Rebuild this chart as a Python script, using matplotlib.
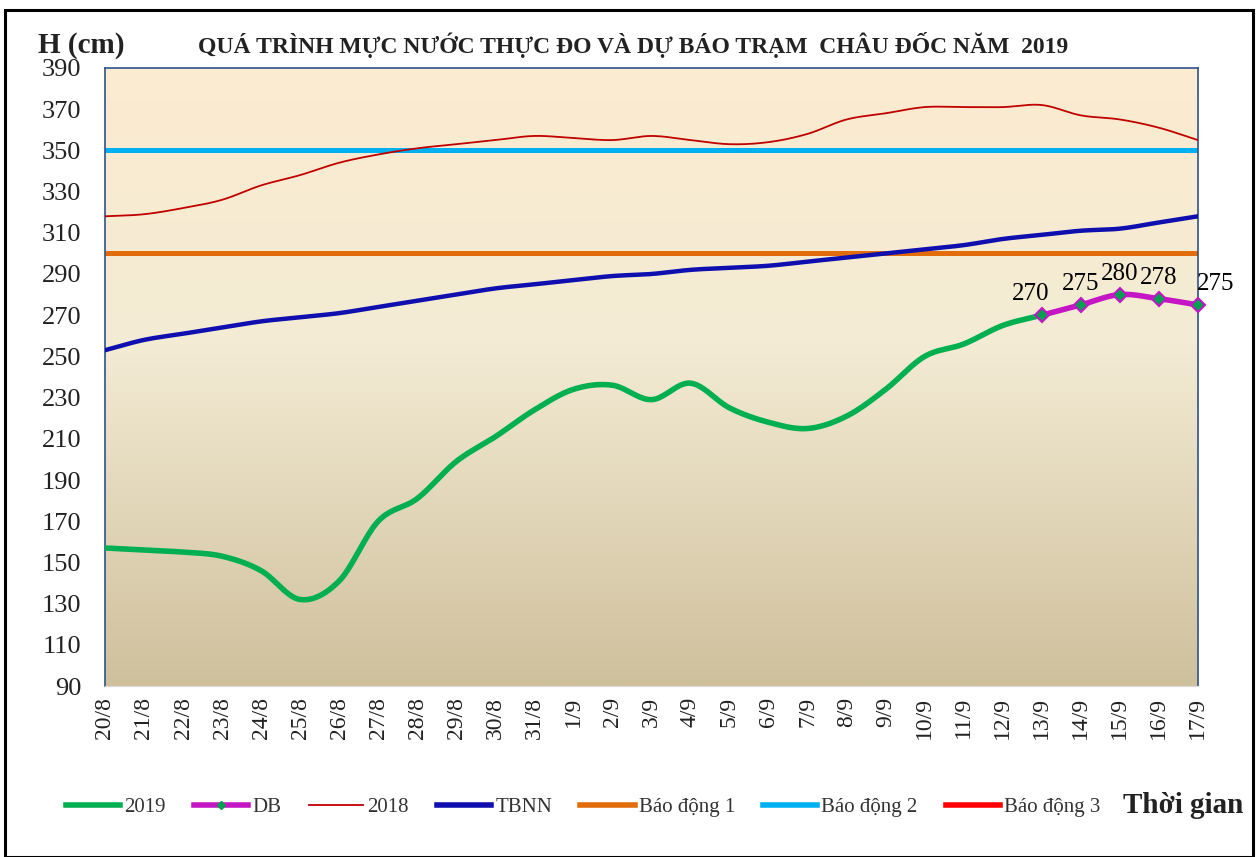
import numpy as np
import matplotlib
matplotlib.use("Agg")
import matplotlib.pyplot as plt
from matplotlib.lines import Line2D
from matplotlib.patches import Rectangle

plt.rcParams['font.family'] = ['Liberation Serif', 'DejaVu Serif']

dates = ['20/8', '21/8', '22/8', '23/8', '24/8', '25/8', '26/8', '27/8', '28/8', '29/8',
         '30/8', '31/8', '1/9', '2/9', '3/9', '4/9', '5/9', '6/9', '7/9', '8/9',
         '9/9', '10/9', '11/9', '12/9', '13/9', '14/9', '15/9', '16/9', '17/9']

h2019 = [157, 156, 155, 153, 146, 132, 141, 170, 181, 199, 211, 224, 234, 236, 229,
         237, 225, 218, 215, 221, 234, 250, 256, 265, 270]
db = [270, 275, 280, 278, 275]
h2018 = [318, 319, 322, 326, 333, 338, 344, 348, 351, 353, 355, 357, 356, 355, 357,
         355, 353, 354, 358, 365, 368, 371, 371, 371, 372, 367, 365, 361, 355]
tbnn = [253, 258, 261, 264, 267, 269, 271, 274, 277, 280, 283, 285, 287, 289, 290,
        292, 293, 294, 296, 298, 300, 302, 304, 307, 309, 311, 312, 315, 318]
bd1, bd2, bd3 = 300, 350, 400


def smooth(x, y, n=20):
    # Catmull-Rom like Excel's smoothed line
    x = np.asarray(x, float)
    y = np.asarray(y, float)
    px = np.concatenate([[2 * x[0] - x[1]], x, [2 * x[-1] - x[-2]]])
    py = np.concatenate([[2 * y[0] - y[1]], y, [2 * y[-1] - y[-2]]])
    xs, ys = [], []
    t = np.linspace(0, 1, n, endpoint=False)
    for i in range(1, len(px) - 2):
        for p, out in ((px, xs), (py, ys)):
            p0, p1, p2, p3 = p[i - 1], p[i], p[i + 1], p[i + 2]
            out.extend(0.5 * (2 * p1 + (-p0 + p2) * t + (2 * p0 - 5 * p1 + 4 * p2 - p3) * t ** 2
                              + (-p0 + 3 * p1 - 3 * p2 + p3) * t ** 3))
    xs.append(x[-1])
    ys.append(y[-1])
    return np.array(xs), np.array(ys)


fig = plt.figure(figsize=(12.57, 8.57), dpi=100)
fig.patches.append(Rectangle((0.004, 0.0), 0.993, 0.988, transform=fig.transFigure,
                             fill=False, edgecolor='black', linewidth=2.2))

ax = fig.add_axes([0.0835, 0.1995, 0.8695, 0.7212])

# background gradient, light cream at top to tan at bottom
g = np.linspace(0, 1, 256).reshape(-1, 1, 1)
top = np.array([252, 236, 208]) / 255
mid = np.array([243, 235, 212]) / 255
bot = np.array([207, 192, 156]) / 255
cols = np.where(g < 0.45, top + (mid - top) * (g / 0.45),
                mid + (bot - mid) * ((g - 0.45) / 0.55))
ax.imshow(cols, extent=[0, len(dates) - 1, 90, 390], origin='upper', aspect='auto', zorder=0)
ax.set_xlim(0, len(dates) - 1)
ax.set_ylim(90, 390)

x = np.arange(len(dates))
ax.axhline(bd1, color='#E36C0A', lw=3.6, zorder=2)
ax.axhline(bd2, color='#00B0F0', lw=3.6, zorder=2)
ax.axhline(bd3, color='#FF0000', lw=3.6, zorder=2)

sx, sy = smooth(x, h2018)
ax.plot(sx, sy, color='#C00000', lw=1.3, zorder=3)
sx, sy = smooth(x, tbnn)
ax.plot(sx, sy, color='#0F0FB0', lw=3.2, zorder=3)
sx, sy = smooth(x[:len(h2019)], h2019)
ax.plot(sx, sy, color='#00B050', lw=4, zorder=4)

xd = x[len(h2019) - 1:]
sx, sy = smooth(xd, db)
ax.plot(sx, sy, color='#C416C4', lw=4, zorder=5, clip_on=False)
ax.plot(xd, db, ls='none', marker='D', ms=7, mfc='#00A050', mec='#C416C4', mew=1.5,
        zorder=6, clip_on=False)
offsets = [(-8, 7), (0, 7), (0, 7), (0, 7), (13, 7)]
for xi, v, off in zip(xd, db, offsets):
    ax.annotate(str(v), (xi, v), xytext=off, textcoords='offset points',
                ha='center', va='bottom', fontsize=18, zorder=7)

ax.set_yticks(range(90, 391, 20))
ax.set_xticks(x)
ax.set_xticklabels(dates, rotation=90)
ax.tick_params(axis='both', length=0, colors='#222222')
ax.tick_params(axis='x', pad=8, labelsize=17)
ax.tick_params(axis='y', pad=17, labelsize=19)
for s in ['left', 'right', 'top']:
    ax.spines[s].set_color('#2F528F')
    ax.spines[s].set_linewidth(1.2)
ax.spines['bottom'].set_color('#D9D9D9')

fig.text(0.030, 0.947, 'H (cm)', fontsize=21, fontweight='bold', color='#222222', va='center')
fig.text(0.504, 0.947, 'QUÁ TRÌNH MỰC NƯỚC THỰC ĐO VÀ DỰ BÁO TRẠM  CHÂU ĐỐC NĂM  2019',
         fontsize=17, fontweight='bold', color='#222222', ha='center', va='center')

handles = [
    Line2D([], [], color='#00B050', lw=4),
    Line2D([], [], color='#C416C4', lw=4, marker='D', ms=4, mfc='#00A050', mec='#00A050'),
    Line2D([], [], color='#C00000', lw=1.3),
    Line2D([], [], color='#0F0FB0', lw=4),
    Line2D([], [], color='#E36C0A', lw=4),
    Line2D([], [], color='#00B0F0', lw=4),
    Line2D([], [], color='#FF0000', lw=4),
]
labels = ['2019', 'DB', '2018', 'TBNN', 'Báo động 1', 'Báo động 2', 'Báo động 3']
fig.legend(handles, labels, loc='center left', bbox_to_anchor=(0.044, 0.058), ncol=7,
           frameon=False, fontsize=15, handlelength=2.6, handletextpad=0.2,
           columnspacing=1.35, labelcolor='#333333', borderpad=0)
fig.text(0.989, 0.06, 'Thời gian', fontsize=21, fontweight='bold', color='#222222',
         ha='right', va='center')

fig.savefig('out.png', dpi=100)
